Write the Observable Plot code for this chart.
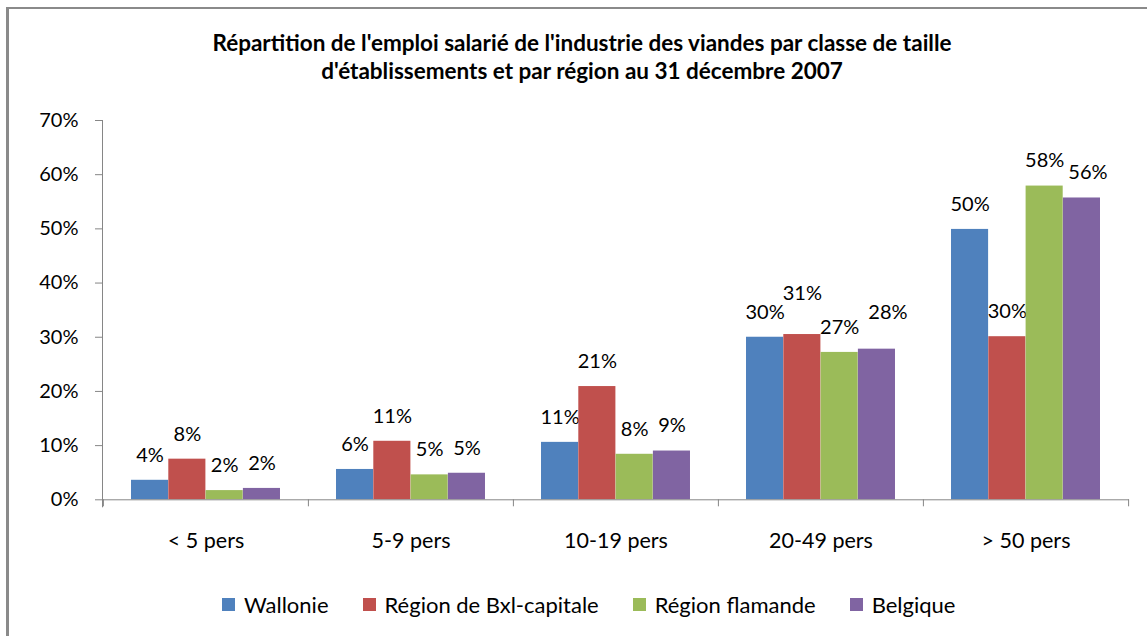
<!DOCTYPE html>
<html>
<head>
<meta charset="utf-8">
<script src="https://cdn.jsdelivr.net/npm/d3@7"></script>
<script src="https://cdn.jsdelivr.net/npm/@observablehq/plot@0.6"></script>
<style>
  html, body { margin: 0; padding: 0; background: #fff; overflow: hidden; }
  #wrap { position: relative; width: 1147px; height: 636px; overflow: hidden; font-family: Lato, "Open Sans", sans-serif; color: #000; }
  #lineL { position: absolute; left: 6px; top: 7px; width: 2.5px; height: 640px; background: #8a8a8a; }
  #lineT { position: absolute; left: 6px; top: 7px; width: 1141px; height: 2px; background: #8a8a8a; }
  #title { position: absolute; left: 0; top: 29px; width: 1164px; text-align: center; font-weight: bold; font-size: 22.5px; line-height: 28px; }
  #chart { position: absolute; left: 0; top: 100px; }
  #legend { position: absolute; left: 222px; top: 591px; display: flex; align-items: center; font-size: 22px; white-space: nowrap; }
  .item { display: flex; align-items: center; margin-right: 34px; }
  .sw { width: 13px; height: 13px; margin-right: 9px; }
</style>
</head>
<body>
<div id="wrap">
  <div id="lineL"></div>
  <div id="lineT"></div>
  <div id="title"></div>
  <div id="chart"></div>
  <div id="legend"></div>
</div>
<script>
const titleLines = [
  "Répartition de l'emploi salarié de l'industrie des viandes par classe de taille",
  "d'établissements et par région au 31 décembre 2007"
];
const categories = ["< 5 pers", "5-9 pers", "10-19 pers", "20-49 pers", "> 50 pers"];
const series = ["Wallonie", "Région de Bxl-capitale", "Région flamande", "Belgique"];
const wallonie  = [3.6, 5.6, 10.6, 30.0, 49.9];
const bruxelles = [7.5, 10.8, 20.9, 30.5, 30.1];
const flandre   = [1.7, 4.6, 8.4, 27.2, 57.9];
const belgique  = [2.1, 4.9, 9.0, 27.8, 55.7];
const yTicks = [0, 10, 20, 30, 40, 50, 60, 70];
const colors = ["#4F81BD", "#C0504D", "#9BBB59", "#8064A2"];

const seriesValues = [wallonie, bruxelles, flandre, belgique];
const rows = [];
series.forEach((s, i) => categories.forEach((c, j) => rows.push({category: c, series: s, value: seriesValues[i][j]})));

document.getElementById("title").innerHTML = titleLines.map(t => `<div>${t}</div>`).join("");

// layout
const W = 1147, H = 460, ML = 102, MR = 19, MT = 20, MB = 60.7;
const bw = (W - ML - MR) / categories.length;
const groupPad = 0.1365;
const barW = bw * (1 - 2 * groupPad) / series.length;
const labelNudge = {
  "20-49 pers|Région de Bxl-capitale": [0, -16],
  "20-49 pers|Belgique": [11, -12],
  "> 50 pers|Belgique": [6, 0]
};

const marks = [];
series.forEach((s, i) => {
  const left = bw * groupPad + i * barW;
  const right = bw - left - barW;
  marks.push(Plot.barY(rows.filter(r => r.series === s), {
    x: "category", y: "value", fill: "series",
    insetLeft: left, insetRight: right
  }));
  rows.filter(r => r.series === s).forEach(r => {
    const n = labelNudge[r.category + "|" + r.series] || [0, 0];
    marks.push(Plot.text([r], {
      x: "category", y: "value", text: d => Math.round(d.value) + "%",
      dx: left + barW / 2 - bw / 2 + n[0], dy: -25 + n[1],
      fontSize: 20, fill: "#000"
    }));
  });
});

const axisColor = "#868686";
marks.push(
  Plot.frame({anchor: "left", stroke: axisColor, insetBottom: -7}),
  Plot.frame({anchor: "bottom", stroke: axisColor}),
  Plot.ruleX(categories, {x: d => d, dx: -bw / 2, stroke: axisColor, insetTop: H - MT - MB, insetBottom: -7}),
  Plot.ruleX(categories.slice(-1), {x: d => d, dx: bw / 2, stroke: axisColor, insetTop: H - MT - MB, insetBottom: -7}),
  Plot.axisY({ticks: yTicks, tickSize: 7, tickPadding: 17, tickFormat: d => d + "%", stroke: axisColor, fontSize: 20, label: null}),
  Plot.axisX({tickSize: 0, tickPadding: 33, fontSize: 21.5, label: null})
);

const chart = Plot.plot({
  width: W, height: H,
  marginLeft: ML, marginRight: MR, marginTop: MT, marginBottom: MB,
  style: {fontFamily: "Lato, 'Open Sans', sans-serif", fontSize: "20px", color: "#000", background: "transparent", overflow: "visible"},
  x: {domain: categories, padding: 0, axis: null},
  y: {domain: [0, 70], axis: null},
  color: {domain: series, range: colors},
  marks
});
document.getElementById("chart").appendChild(chart);

const legend = document.getElementById("legend");
series.forEach((s, i) => {
  const it = document.createElement("div");
  it.className = "item";
  it.innerHTML = `<div class="sw" style="background:${colors[i]}"></div><span>${s}</span>`;
  legend.appendChild(it);
});
</script>
</body>
</html>
